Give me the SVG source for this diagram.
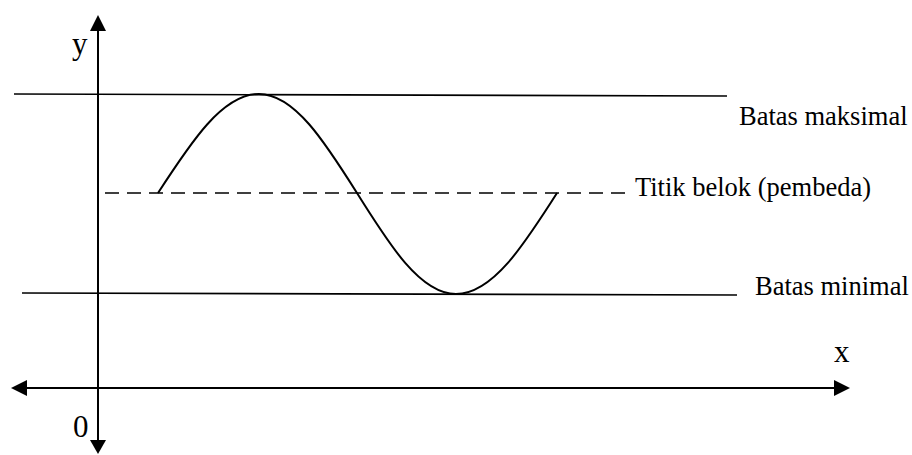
<svg xmlns="http://www.w3.org/2000/svg" width="912" height="455" viewBox="0 0 912 455">
<style>
.t{font-family:"Liberation Serif","Times New Roman",serif;font-size:26.5px;fill:#000}
.ax{font-size:31px}
.ln{stroke:#000;fill:none}
</style>
<rect width="912" height="455" fill="#fff"/>
<g id="connectors">
<line id="y-axis" class="ln" x1="98" y1="440" x2="98" y2="30" stroke-width="2"/>
<path d="M98,15 L90,31 L106,31 Z" fill="#000"/>
<path d="M98,454 L90,440 L106,440 Z" fill="#000"/>
<line id="x-axis" class="ln" x1="26" y1="388" x2="836" y2="388" stroke-width="2"/>
<path d="M11,388 L27,380 L27,396 Z" fill="#000"/>
<path d="M850,388 L834,380 L834,396 Z" fill="#000"/>
<line id="max-line" class="ln" x1="14" y1="94" x2="727" y2="96" stroke-width="1.6"/>
<line id="mid-line" class="ln" x1="105" y1="193" x2="625" y2="193" stroke-width="1.6" stroke-dasharray="14,8"/>
<line id="min-line" class="ln" x1="22" y1="293" x2="737" y2="295" stroke-width="1.6"/>
<path id="wave" class="ln" stroke-width="2" d="M158,193 C190.9,142.3 222.4,94 259,94 C294.5,94 325.1,142.3 357,193 C389.3,244.7 420.2,294 456,294 C492.6,294 524.1,244.7 557,193"/>
</g>
<g id="label-y"><text class="t ax" x="72" y="54">y</text></g>
<g id="label-0"><text class="t ax" x="73" y="437">0</text></g>
<g id="label-x"><text class="t ax" x="834" y="362">x</text></g>
<g id="label-max"><text class="t" x="739" y="125">Batas maksimal</text></g>
<g id="label-mid"><text class="t" x="635" y="196">Titik belok (pembeda)</text></g>
<g id="label-min"><text class="t" x="755" y="295">Batas minimal</text></g>
</svg>
